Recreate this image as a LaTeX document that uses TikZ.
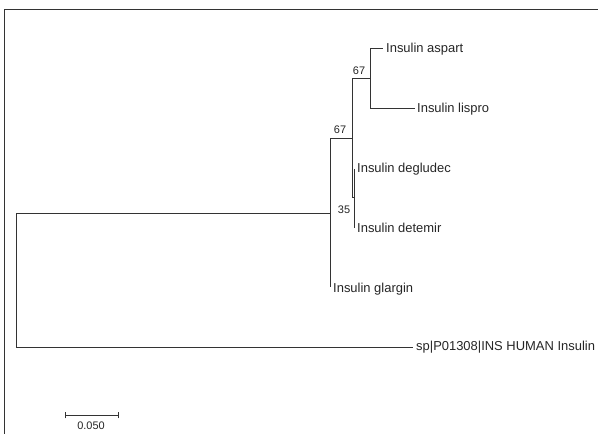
\documentclass[tikz,border=0pt]{standalone}
\usepackage{fontspec}
\setmainfont{Liberation Sans}
\begin{document}
\begin{tikzpicture}[x=1bp,y=-1bp,
  branch/.style={draw=black!80,line width=1bp},
  leaf/.style={anchor=west,inner sep=0pt,font=\fontsize{13}{15}\selectfont,text=black!85},
  boot/.style={inner sep=0pt,font=\fontsize{11}{13}\selectfont,text=black!85},
  frameline/.style={draw=black!80,line width=1.8bp}]
\useasboundingbox (0,0) rectangle (598,434);
\fill[white] (0,0) rectangle (598,434);
% frame
\coordinate (fbl) at (4.5,434);
\coordinate (ftl) at (4.5,9.5);
\coordinate (ftr) at (598,9.5);
\draw[frameline] (fbl) -- (ftl) -- (ftr);
% internal nodes
\coordinate (R) at (16,214);
\coordinate (A) at (330,214);
\coordinate (B) at (352,139);
\coordinate (C) at (370,79);
\coordinate (D) at (354,198);
% leaf tips
\coordinate (tasp) at (383,49);
\coordinate (tlis) at (415,109);
\coordinate (tdeg) at (354,169);
\coordinate (tdet) at (354,228);
\coordinate (tgla) at (330,287);
\coordinate (thum) at (413,347);
% labels
\node[leaf] (asp) at (386,49) {Insulin aspart};
\node[leaf] (lis) at (417,109) {Insulin lispro};
\node[leaf] (deg) at (357,169) {Insulin degludec};
\node[leaf] (det) at (357,228) {Insulin detemir};
\node[leaf] (gla) at (333,289) {Insulin glargin};
\node[leaf] (hum) at (416,347) {sp|P01308|INS HUMAN Insulin};
% branches
\draw[branch] (R |- thum) -- (R) -- (A);
\draw[branch] (R |- thum) -- (thum);
\draw[branch] (A |- B) -- (A |- tgla);
\draw[branch] (A |- B) -- (B);
\draw[branch] (B |- C) -- (B |- D);
\draw[branch] (B |- C) -- (C);
\draw[branch] (B |- D) -- (D);
\draw[branch] (tdeg) -- (tdet);
\draw[branch] (C |- tasp) -- (C |- tlis);
\draw[branch] (C |- tasp) -- (tasp);
\draw[branch] (C |- tlis) -- (tlis);
% bootstrap values
\node[boot] (b1) at (340,130) {67};
\node[boot] (b2) at (359,71) {67};
\node[boot] (b3) at (344,210) {35};
% scale bar
\coordinate (s1) at (65,415);
\coordinate (s2) at (118,415);
\draw[branch] (s1) -- (s2);
\draw[branch] ([yshift=-3.5]s1) -- ([yshift=3.5]s1);
\draw[branch] ([yshift=-3.5]s2) -- ([yshift=3.5]s2);
\node[boot] (sl) at (91,426) {0.050};
\end{tikzpicture}
\end{document}
